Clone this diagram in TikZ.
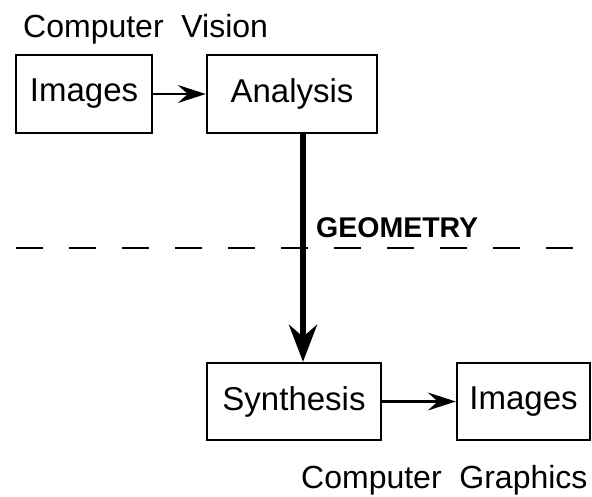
\documentclass[tikz,border=0pt]{standalone}
\usepackage{fontspec}
\setmainfont{Liberation Sans}
\usetikzlibrary{arrows.meta}

\tikzset{
  box/.style={draw, line width=2.4pt, inner sep=0pt, font=\fontsize{33}{40}\selectfont},
  label/.style={inner sep=0pt, font=\fontsize{32}{38}\selectfont},
  flow/.style={line width=2.2pt, -{Stealth[length=28pt, width=18pt, inset=10pt]}},
  bigflow/.style={line width=5.5pt, -{Stealth[length=37pt, width=28pt, inset=12pt]}},
  divider/.style={line width=2.5pt, dash pattern=on 27pt off 26pt}
}

\begin{document}
\begin{tikzpicture}[x=1pt, y=1pt]
  \useasboundingbox (0,0) rectangle (592,-496);

  % section titles
  \node[label, anchor=base west] (cv) at (23,-37) {Computer\ \ Vision};
  \node[label, anchor=base west] (cg) at (301,-488) {Computer\ \ Graphics};

  % vision side
  \node[box, minimum width=136pt, minimum height=78pt] (img1) at (84,-94) {Images};
  \node[box, minimum width=170pt, minimum height=78pt] (ana) at (292,-94) {Analysis};

  % graphics side
  \node[box, minimum width=174pt, minimum height=77pt] (syn) at (294,-401.5) {Synthesis};
  \node[box, minimum width=133pt, minimum height=77pt] (img2) at (523.5,-401.5) {Images};

  % dividing line and its label
  \coordinate (dl) at (16,-248);
  \coordinate (dr) at (576,-248);
  \draw[divider] (dl) -- (dr);
  \node[inner sep=0pt, anchor=base west, font=\bfseries\fontsize{28.5}{34}\selectfont] (geo) at (316,-237) {GEOMETRY};

  % connectors
  \draw[flow] (img1.east) -- (ana.west);
  \draw[flow] (syn.east) -- (img2.west);
  \draw[bigflow] ([xshift=11pt]ana.south) -- ([xshift=9pt]syn.north);
\end{tikzpicture}
\end{document}
